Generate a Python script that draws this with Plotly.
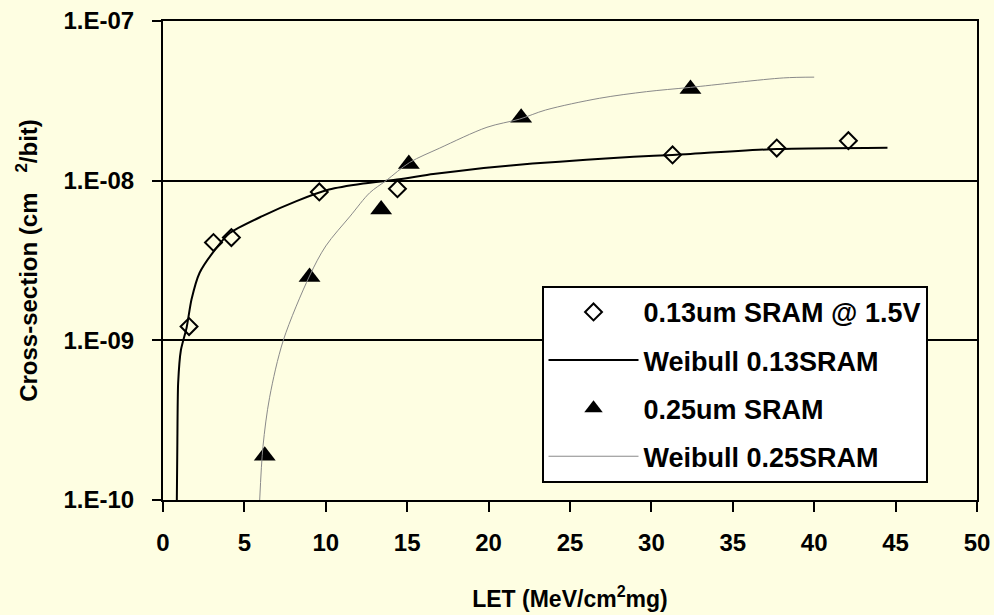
import plotly.graph_objects as go

# Measured data
let_013 = [1.6, 3.1, 4.2, 9.6, 14.4, 31.3, 37.7, 42.1]
xs_013 = [1.22e-9, 4.1e-9, 4.4e-9, 8.5e-9, 8.9e-9, 1.45e-8, 1.6e-8, 1.78e-8]

let_025 = [6.25, 9.0, 13.4, 15.1, 22.0, 32.4]
xs_025 = [1.89e-10, 2.49e-9, 6.6e-9, 1.27e-8, 2.48e-8, 3.75e-8]

# Weibull fit curves
wb013_x = [0.85, 0.88, 0.93, 1.10, 1.45, 1.75, 2.25, 3.2, 4.1, 6.1, 8.2, 10.2,
           12.3, 14.5, 16.6, 19.7, 22.7, 26.0, 28.9, 31.3, 37.7, 44.5]
wb013_y = [1.0e-10, 2.2e-10, 5.4e-10, 8.7e-10, 1.2e-9, 1.8e-9, 2.65e-9, 3.7e-9,
           4.7e-9, 6.0e-9, 7.45e-9, 8.8e-9, 9.6e-9, 1.02e-8, 1.1e-8, 1.2e-8,
           1.28e-8, 1.35e-8, 1.41e-8, 1.45e-8, 1.58e-8, 1.61e-8]

wb025_x = [5.94, 6.14, 6.55, 7.39, 9.0, 10.0, 11.5, 12.7, 13.7, 15.15,
           17.0, 19.9, 21.9, 23.5, 26.8, 29.7, 32.4, 38.1, 40.0]
wb025_y = [1.0e-10, 2.16e-10, 4.4e-10, 1.0e-9, 2.53e-9, 3.9e-9, 6.0e-9,
           8.4e-9, 1.0e-8, 1.3e-8, 1.6e-8, 2.16e-8, 2.43e-8, 2.77e-8, 3.28e-8,
           3.61e-8, 3.84e-8, 4.4e-8, 4.45e-8]

y_tickvals = [1e-10, 1e-9, 1e-8, 1e-7]
y_ticktext = ["1.E-10", "1.E-09", "1.E-08", "1.E-07"]
x_tickvals = [0, 5, 10, 15, 20, 25, 30, 35, 40, 45, 50]

BG = "#FEFEE2"
FONT = "Liberation Sans, Arial, sans-serif"

fig = go.Figure()
fig.add_trace(go.Scatter(
    x=let_013, y=xs_013, mode="markers", name="0.13um SRAM @ 1.5V",
    legendgroup="a",
    marker=dict(symbol="diamond-open", size=13, color="black", line=dict(width=2, color="black")),
))
fig.add_trace(go.Scatter(
    x=wb013_x, y=wb013_y, mode="lines", name="Weibull 0.13SRAM",
    legendgroup="b",
    line=dict(color="black", width=2, shape="spline", smoothing=0.6),
))
fig.add_trace(go.Scatter(
    x=let_025, y=xs_025, mode="markers", name="0.25um SRAM",
    legendgroup="c",
    marker=dict(symbol="triangle-up", size=19, color="black"),
))
fig.add_trace(go.Scatter(
    x=wb025_x, y=wb025_y, mode="lines", name="Weibull 0.25SRAM",
    legendgroup="d",
    line=dict(color="#8a8a8a", width=1, shape="spline", smoothing=0.9),
))

fig.update_layout(
    width=994, height=615,
    margin=dict(l=163, r=17, t=21, b=115),
    paper_bgcolor=BG, plot_bgcolor=BG,
    font=dict(family=FONT, size=24, color="black", weight="bold"),
    showlegend=True,
    legend=dict(
        x=0.465, y=0.447, xanchor="left", yanchor="top",
        bgcolor="white", bordercolor="black", borderwidth=2,
        font=dict(family=FONT, size=27, color="black", weight="bold"),
        traceorder="grouped", tracegroupgap=10, itemwidth=90,
    ),
    xaxis=dict(
        range=[0, 50], tickvals=x_tickvals, automargin=False,
        showline=True, linecolor="black", linewidth=2, mirror=True,
        ticks="outside", ticklen=10, tickwidth=2, tickcolor="black",
        showgrid=False, zeroline=False, ticklabelstandoff=10,
        title=dict(text="LET (MeV/cm<sup>2</sup>mg)", standoff=36,
                   font=dict(family=FONT, size=23, weight="bold")),
    ),
    yaxis=dict(
        type="log", range=[-10, -7], tickvals=y_tickvals, ticktext=y_ticktext,
        automargin=False,
        showline=True, linecolor="black", linewidth=2, mirror=True,
        ticks="outside", ticklen=9, tickwidth=2, tickcolor="black",
        showgrid=True, gridcolor="black", gridwidth=2, zeroline=False,
        ticklabelstandoff=13,
        title=dict(text="Cross-section (cm\u00a0\u00a0\u00a0<sup>2</sup>/bit)", standoff=19,
                   font=dict(family=FONT, size=24, weight="bold")),
    ),
)

fig.write_html("out.html")
